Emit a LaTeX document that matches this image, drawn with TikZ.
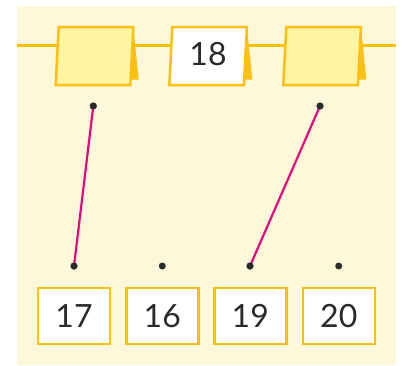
\documentclass[tikz,border=0pt]{standalone}
\usepackage{fontspec}
\setmainfont{Lato}
\definecolor{bg}{HTML}{FEF8DA}
\definecolor{gold}{HTML}{FDC012}
\definecolor{cardfill}{HTML}{FFF4A3}
\definecolor{mag}{HTML}{E5097F}
\definecolor{ink}{HTML}{2B2B2B}
\begin{document}
\begin{tikzpicture}[x=1pt,y=-1pt,
  numtext/.style={font=\fontsize{32}{32}\selectfont, text=ink, inner sep=0pt},
  numbox/.style={draw=gold, line width=2.5pt, fill=white, minimum width=72pt, minimum height=56pt, inner sep=0pt, font=\fontsize{32}{32}\selectfont, text=ink},
  dot/.style={circle, fill=ink, inner sep=0pt, minimum size=7pt},
  link/.style={draw=mag, line width=2.2pt},
  cardedge/.style={draw=gold, line width=2.5pt, line join=miter}]
\useasboundingbox (0,0) rectangle (403,365);
\fill[bg] (17,6) rectangle (396,365);
\draw[gold, line width=3pt] (17,45.7) -- (396,45.7);
% tent cards
\foreach \a/\f in {58.7/cardfill, 172.3/white, 286.3/cardfill}{
  \fill[gold] (\a+74.6,27) -- (\a+80,79.5) -- (\a+71.6,79.5) -- cycle;
  \filldraw[cardedge, fill=\f] (\a,27) -- (\a+74.6,27) -- (\a+71.6,85) -- (\a-3,85) -- cycle;
}
\node[numtext] (c18) at (208,54) {18};
% dots
\node[dot] (t1) at (93.3,106) {};
\node[dot] (t2) at (320,106) {};
\node[dot] (b1) at (74,266) {};
\node[dot] (b2) at (162.3,266) {};
\node[dot] (b3) at (250,266) {};
\node[dot] (b4) at (338.7,266) {};
% boxes
\node[numbox] (n17) at (74,316) {17};
\node[numbox] (n16) at (162.3,316) {16};
\node[numbox] (n19) at (250.3,316) {19};
\node[numbox] (n20) at (338.8,316) {20};
% links
\draw[link] (t1.center) -- (b1.center);
\draw[link] (t2.center) -- (b3.center);
\node[dot] at (t1) {};
\node[dot] at (t2) {};
\node[dot] at (b1) {};
\node[dot] at (b3) {};
\end{tikzpicture}
\end{document}
